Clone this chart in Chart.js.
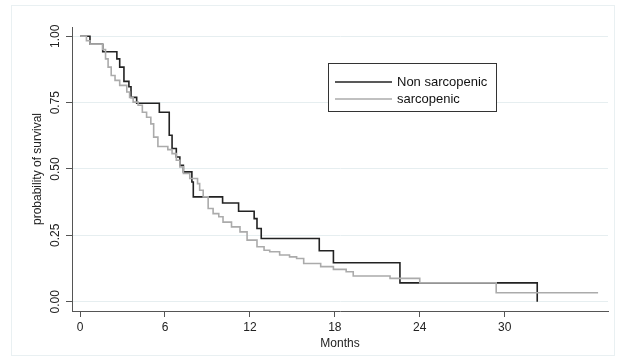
<!DOCTYPE html>
<html>
<head>
<meta charset="utf-8">
<script src="https://cdn.jsdelivr.net/npm/chart.js@4.4.1/dist/chart.umd.min.js"></script>
<style>
  html, body { margin: 0; padding: 0; background: #fff; }
</style>
</head>
<body>
<canvas id="kmChart" width="619" height="361"></canvas>
<script>
// KM steps: time in months, survival after that time
const nonSarcMonths = [0, 0.7, 1.6, 2.6, 2.8, 3.1, 3.45, 3.6, 4.0, 5.6, 6.3, 6.5, 6.8, 7.05, 7.3, 7.9, 8.0, 10.07, 11.2, 12.3, 12.5, 12.8, 16.9, 17.9, 22.6, 32.3];
const nonSarcSurv = [1.0, 0.97, 0.942, 0.915, 0.884, 0.83, 0.81, 0.77, 0.748, 0.714, 0.627, 0.577, 0.545, 0.514, 0.489, 0.451, 0.395, 0.372, 0.341, 0.313, 0.276, 0.238, 0.192, 0.147, 0.071, 0.0];

const sarcMonths = [0, 0.45, 0.7, 1.6, 1.8, 1.98, 2.2, 2.47, 2.8, 3.3, 3.5, 3.75, 4.1, 4.4, 4.7, 5.0, 5.2, 5.5, 6.2, 6.5, 6.8, 7.05, 7.3, 7.75, 8.3, 8.45, 8.7, 9.05, 9.4, 9.8, 10.1, 10.7, 11.3, 11.8, 12.5, 13.0, 13.4, 14.1, 14.8, 15.3, 15.8, 17.0, 17.9, 18.8, 19.3, 21.9, 24.0, 29.4, 36.6];
const sarcSurv = [1.0, 0.983, 0.97, 0.95, 0.915, 0.884, 0.852, 0.834, 0.815, 0.79, 0.77, 0.752, 0.74, 0.714, 0.695, 0.67, 0.62, 0.585, 0.573, 0.558, 0.533, 0.508, 0.483, 0.464, 0.445, 0.42, 0.395, 0.351, 0.332, 0.32, 0.30, 0.282, 0.263, 0.232, 0.207, 0.194, 0.188, 0.176, 0.169, 0.163, 0.144, 0.132, 0.122, 0.113, 0.097, 0.088, 0.071, 0.034, 0.034];

const seriesNames = ['Non sarcopenic', 'sarcopenic'];
const monthTicks = [0, 6, 12, 18, 24, 30];
const survTicks = [0, 0.25, 0.5, 0.75, 1];

const FONT = '"Liberation Sans", Arial, sans-serif';
const axisColor = '#555';
const blackLine = '#222';
const grayLine = '#ababab';

function toPoints(xs, ys) {
  return xs.map((x, i) => ({ x: x, y: ys[i] }));
}

// faint outer frame like the stata graph region
const frame = {
  id: 'frame',
  beforeDraw(chart) {
    const ctx = chart.ctx;
    ctx.save();
    ctx.strokeStyle = '#e9f0f2';
    ctx.lineWidth = 1;
    ctx.strokeRect(11.5, 5.5, 603, 350);
    ctx.restore();
  }
};

// vertical y tick labels (chart.js won't center rotated labels on a y axis)
const yLabels = {
  id: 'yLabels',
  afterDraw(chart) {
    const ctx = chart.ctx;
    const y = chart.scales.y;
    ctx.save();
    ctx.font = '12px ' + FONT;
    ctx.fillStyle = '#222';
    ctx.textAlign = 'center';
    ctx.textBaseline = 'middle';
    y.ticks.forEach(t => {
      ctx.save();
      ctx.translate(56, y.getPixelForValue(t.value));
      ctx.rotate(-Math.PI / 2);
      ctx.fillText(t.value.toFixed(2), 0, 0);
      ctx.restore();
    });
    ctx.restore();
  }
};

// boxed legend inside the plot
const kmLegend = {
  id: 'kmLegend',
  afterDatasetsDraw(chart) {
    const ctx = chart.ctx;
    const left = 328.5, top = 63.5, w = 168, h = 48;
    ctx.save();
    ctx.fillStyle = '#fff';
    ctx.fillRect(left, top, w, h);
    ctx.strokeStyle = '#333';
    ctx.lineWidth = 1;
    ctx.strokeRect(left, top, w, h);
    const ds = chart.data.datasets;
    const rows = [82, 99];
    ctx.font = '13px ' + FONT;
    ctx.textBaseline = 'middle';
    ctx.fillStyle = '#111';
    seriesNames.forEach((name, i) => {
      const d = ds.find(s => s.label === name);
      ctx.strokeStyle = d.borderColor;
      ctx.lineWidth = d.borderWidth;
      ctx.beginPath();
      ctx.moveTo(335, rows[i]);
      ctx.lineTo(392, rows[i]);
      ctx.stroke();
      ctx.fillText(name, 397, rows[i]);
    });
    ctx.restore();
  }
};

const ctx = document.getElementById('kmChart').getContext('2d');

const kmChart = new Chart(ctx, {
  type: 'line',
  data: {
    datasets: [
      {
        label: seriesNames[1],
        data: toPoints(sarcMonths, sarcSurv),
        borderColor: grayLine,
        borderWidth: 1.6,
        stepped: true,
        pointRadius: 0,
        order: 0
      },
      {
        label: seriesNames[0],
        data: toPoints(nonSarcMonths, nonSarcSurv),
        borderColor: blackLine,
        borderWidth: 1.6,
        stepped: true,
        pointRadius: 0,
        order: 1
      }
    ]
  },
  options: {
    responsive: false,
    animation: false,
    layout: { padding: { top: 27, right: 11, left: 0, bottom: 0 } },
    plugins: {
      legend: { display: false },
      tooltip: { enabled: false }
    },
    scales: {
      x: {
        type: 'linear',
        min: -0.57,
        max: 37.3,
        afterBuildTicks: s => { s.ticks = monthTicks.map(v => ({ value: v })); },
        afterFit: s => { s.height = 50; },
        grid: { drawOnChartArea: false, tickLength: 6, tickColor: axisColor },
        border: { color: axisColor, width: 1 },
        ticks: { color: '#222', font: { family: FONT, size: 12 }, padding: 3, maxRotation: 0 },
        title: {
          display: true, text: 'Months', color: '#222',
          font: { family: FONT, size: 12 }, padding: { top: 0, bottom: 10 }
        }
      },
      y: {
        type: 'linear',
        min: -0.035,
        max: 1.035,
        afterBuildTicks: s => { s.ticks = survTicks.map(v => ({ value: v })); },
        afterFit: s => { s.width = 72; },
        grid: { color: '#e6eef0', tickLength: 6, tickColor: axisColor },
        border: { color: axisColor, width: 1 },
        ticks: { display: false },
        title: {
          display: true, text: 'probability of survival', color: '#222',
          font: { family: FONT, size: 12 }, padding: { top: 30 }
        }
      }
    }
  },
  plugins: [frame, yLabels, kmLegend]
});
</script>
</body>
</html>
